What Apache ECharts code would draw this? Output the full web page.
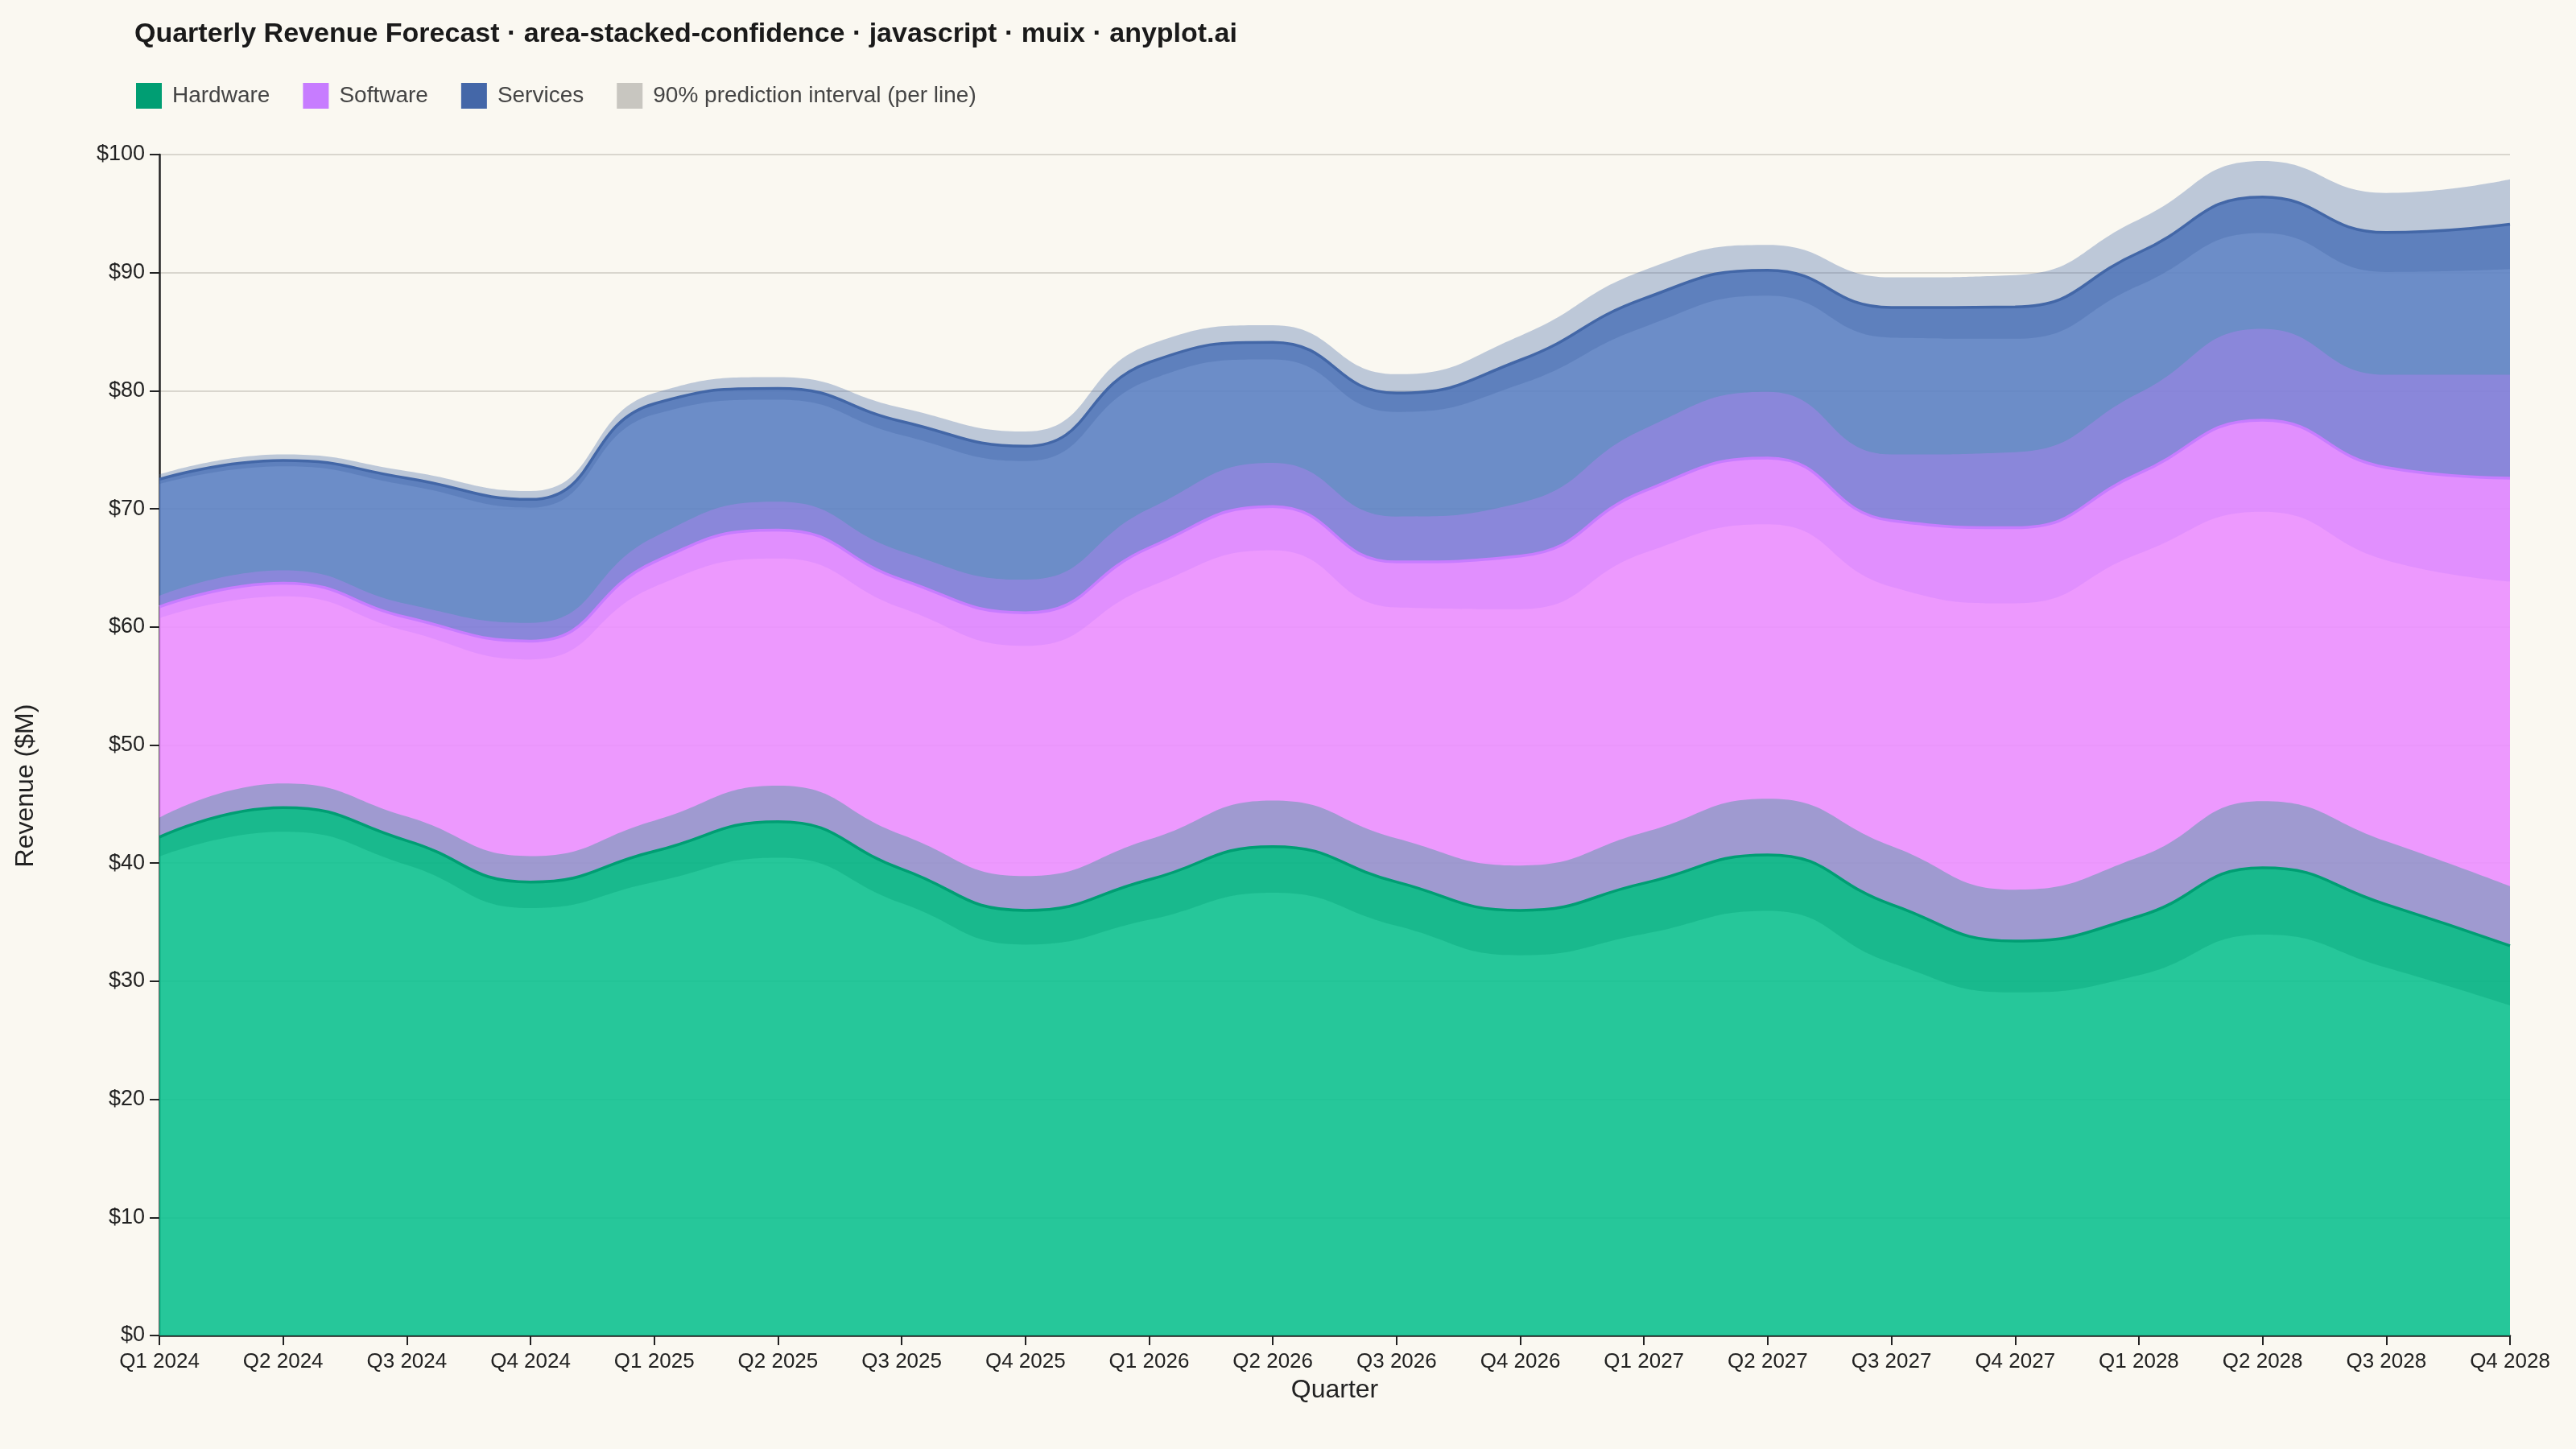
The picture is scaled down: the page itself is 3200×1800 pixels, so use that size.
<!DOCTYPE html>
<html>
<head>
<meta charset="utf-8">
<title>Quarterly Revenue Forecast</title>
<script src="https://cdn.jsdelivr.net/npm/echarts@6/dist/echarts.min.js"></script>
<style>
  html, body { margin: 0; padding: 0; background: #FAF8F1; }
  #chart { width: 3200px; height: 1800px; }
</style>
</head>
<body>
<div id="chart"></div>
<script>
// quarters on the x axis
const quarters = [
  'Q1 2024', 'Q2 2024', 'Q3 2024', 'Q4 2024',
  'Q1 2025', 'Q2 2025', 'Q3 2025', 'Q4 2025',
  'Q1 2026', 'Q2 2026', 'Q3 2026', 'Q4 2026',
  'Q1 2027', 'Q2 2027', 'Q3 2027', 'Q4 2027',
  'Q1 2028', 'Q2 2028', 'Q3 2028', 'Q4 2028'
]

// revenue per segment ($M), stacked in this order
const hardware = [42.2, 44.7, 41.9, 38.4, 41.0, 43.5, 39.5, 36.0, 38.6, 41.4, 38.4, 36.0, 38.3, 40.7, 36.5, 33.4, 35.5, 39.6, 36.5, 33.0]
const software = [19.5, 19.0, 18.9, 20.4, 24.5, 24.7, 24.5, 25.2, 28.1, 28.8, 27.1, 30.0, 33.2, 33.6, 32.5, 35.0, 37.5, 37.9, 37.0, 39.6]
const services = [10.8, 10.4, 11.8, 12.0, 13.4, 12.0, 13.4, 14.1, 15.7, 13.9, 14.3, 16.6, 16.3, 15.9, 18.05, 18.7, 18.7, 18.9, 19.9, 21.5]

// half width of the 90% prediction interval around each stacked line
const hardwareBand = [1.65, 2.05, 2.05, 2.2, 2.6, 3.05, 2.9, 2.9, 3.4, 3.9, 3.7, 3.8, 4.3, 4.75, 4.95, 4.35, 5.0, 5.65, 5.35, 5.05]
const softwareBand = [0.95, 1.1, 1.15, 1.55, 2.1, 2.4, 2.4, 2.8, 3.3, 3.7, 3.85, 4.5, 5.25, 5.6, 5.6, 6.4, 6.8, 7.75, 7.85, 8.75]
const servicesBand = [0.4, 0.5, 0.6, 0.7, 0.9, 0.95, 1.15, 1.25, 1.5, 1.45, 1.6, 2.05, 2.4, 2.15, 2.55, 2.7, 2.8, 3.05, 3.35, 3.8]

const yTicks = [0, 10, 20, 30, 40, 50, 60, 70, 80, 90, 100]

const FONT = "'Liberation Sans', Arial, Helvetica, sans-serif"
const BAND = '90% prediction interval (per line)'
const colors = { hardware: '#009E73', software: '#C77CFF', services: '#4467A8' }
const fills = { hardware: '#14C292', software: '#EB90FF', services: '#6083C4' }

// cumulative tops, the bands sit around these
const topHardware = hardware.slice()
const topSoftware = hardware.map((v, i) => v + software[i])
const topServices = topSoftware.map((v, i) => v + services[i])

const SMOOTH = 0.5

function mainSeries(name, data, key) {
  return {
    name: name,
    type: 'line',
    stack: 'total',
    data: data,
    smooth: SMOOTH,
    symbol: 'none',
    z: 2,
    itemStyle: { color: colors[key] },
    lineStyle: { color: colors[key], width: 3.5 },
    areaStyle: { color: fills[key], opacity: 0.92 }
  }
}

// band = invisible lower line + stacked (upper - lower) area
function bandSeries(key, tops, half) {
  return [
    {
      name: key + '-low',
      type: 'line',
      stack: 'band-' + key,
      data: tops.map((v, i) => +(v - half[i]).toFixed(2)),
      smooth: SMOOTH,
      symbol: 'none',
      silent: true,
      z: 3,
      lineStyle: { width: 0, opacity: 0 }
    },
    {
      name: BAND,
      type: 'line',
      stack: 'band-' + key,
      data: half.map((h) => +(2 * h).toFixed(2)),
      smooth: SMOOTH,
      symbol: 'none',
      silent: true,
      z: 3,
      itemStyle: { color: '#C8C6C0' },
      lineStyle: { width: 0, opacity: 0 },
      areaStyle: { color: colors[key], opacity: 0.33 }
    }
  ]
}

const chart = echarts.init(document.getElementById('chart'))

const option = {
  backgroundColor: '#FAF8F1',
  animation: false,
  title: {
    text: 'Quarterly Revenue Forecast · area-stacked-confidence · javascript · muix · anyplot.ai',
    left: 167,
    top: 26,
    padding: 0,
    textStyle: { fontSize: 34, fontWeight: 'bold', color: '#1a1a1a', fontFamily: FONT }
  },
  legend: {
    left: 169,
    top: 103,
    padding: 0,
    icon: 'rect',
    itemWidth: 32,
    itemHeight: 32,
    itemGap: 41,
    textStyle: { fontSize: 28, color: '#444', fontFamily: FONT, padding: [0, 0, 0, 8] },
    data: [
      { name: 'Hardware', itemStyle: { color: colors.hardware, borderWidth: 0 } },
      { name: 'Software', itemStyle: { color: colors.software, borderWidth: 0 } },
      { name: 'Services', itemStyle: { color: colors.services, borderWidth: 0 } },
      { name: BAND, itemStyle: { color: '#C8C6C0', borderWidth: 0 } }
    ]
  },
  grid: { left: 198, right: 82, top: 192, bottom: 141 },
  xAxis: {
    type: 'category',
    data: quarters,
    boundaryGap: false,
    name: 'Quarter',
    nameLocation: 'middle',
    nameGap: 52,
    nameTextStyle: { fontSize: 32, color: '#222', fontFamily: FONT },
    axisLine: { lineStyle: { color: '#222', width: 2.5 } },
    axisTick: { show: true, length: 12, alignWithLabel: true, lineStyle: { color: '#222', width: 2 } },
    axisLabel: { interval: 0, fontSize: 26, color: '#222', margin: 20, fontFamily: FONT },
    splitLine: { show: false }
  },
  yAxis: {
    type: 'value',
    min: yTicks[0],
    max: yTicks[yTicks.length - 1],
    interval: yTicks[1] - yTicks[0],
    axisLine: { show: true, lineStyle: { color: '#222', width: 2.5 } },
    axisTick: { show: true, length: 12, lineStyle: { color: '#222', width: 2 } },
    axisLabel: { formatter: '${value}', fontSize: 27, color: '#222', margin: 18, fontFamily: FONT },
    splitLine: { lineStyle: { color: '#D9D6CE', width: 2 } }
  },
  graphic: [
    {
      type: 'text',
      x: 32,
      y: 976,
      rotation: Math.PI / 2,
      style: {
        text: 'Revenue ($M)',
        font: '32px ' + FONT,
        fill: '#222',
        textAlign: 'center',
        textVerticalAlign: 'middle'
      }
    }
  ],
  series: [
    mainSeries('Hardware', hardware, 'hardware'),
    mainSeries('Software', software, 'software'),
    mainSeries('Services', services, 'services'),
    ...bandSeries('hardware', topHardware, hardwareBand),
    ...bandSeries('software', topSoftware, softwareBand),
    ...bandSeries('services', topServices, servicesBand)
  ]
}

chart.setOption(option)
window.onresize = chart.resize
</script>
</body>
</html>
